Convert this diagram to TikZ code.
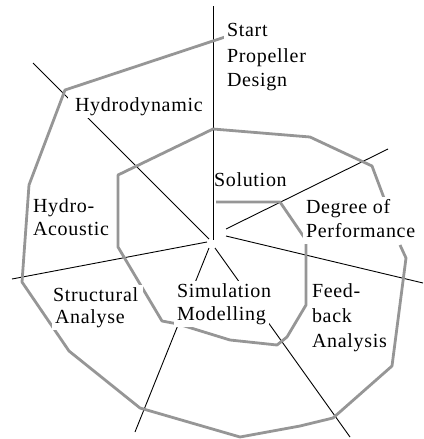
\documentclass[tikz,border=0pt]{standalone}
\usepackage{fontspec}
\setmainfont{Liberation Serif}[LetterSpace=3.5]
\definecolor{spiralgray}{RGB}{150,150,150}
\begin{document}
\begin{tikzpicture}[x=1pt,y=-1pt,
  ray/.style={line width=0.9pt, black},
  spir/.style={line width=2.8pt, spiralgray, line join=round},
  lbl/.style={font=\fontsize{20}{24}\selectfont, fill=white, inner xsep=3pt, inner ysep=2pt,
              text height=14pt, text depth=5pt, anchor=text}]
\useasboundingbox (0,0) rectangle (423,439);
% ray end points
\coordinate (vT) at (213,6);    \coordinate (vB) at (213,240);
\coordinate (ulA) at (33,63);   \coordinate (ulB) at (209,239);
\coordinate (urA) at (388,149); \coordinate (urB) at (226,229);
\coordinate (rA) at (226,236);  \coordinate (rB) at (423,283);
\coordinate (lA) at (12,279);   \coordinate (lB) at (207,242);
\coordinate (dlA) at (209,248); \coordinate (dlB) at (135,432);
\coordinate (drA) at (215,248); \coordinate (drB) at (350,437);
\draw[ray] (vT) -- (vB);
\draw[ray] (ulA) -- (ulB);
\draw[ray] (urA) -- (urB);
\draw[ray] (rA) -- (rB);
\draw[ray] (lA) -- (lB);
\draw[ray] (dlA) -- (dlB);
\draw[ray] (drA) -- (drB);
% spiral, outer turn
\draw[spir] (225,37) -- (65,90) -- (29,185) -- (22,282) -- (69,351) -- (140,408)
  -- (240,437) -- (300,426) -- (333,418) -- (392,366) -- (406,258) -- (400,245);
% spiral, inner turn
\draw[spir] (384,198) -- (372,166) -- (310,137) -- (213,129) -- (118,175) -- (118,247)
  -- (162,321) -- (178,324) -- (230,340) -- (277,345) -- (287,337) -- (306,305)
  -- (306,240) -- (280,202) -- (216,202);
% labels
\node[lbl] (start1) at (227,36) {Start};
\node[lbl] (start2) at (227,62) {Propeller};
\node[lbl] (start3) at (227,86) {Design};
\node[lbl, inner xsep=7pt] (hydrodyn) at (75,111) {Hydrodynamic};
\node[lbl, fill=none, inner xsep=0pt] (solution) at (214,186) {Solution};
\node[lbl] (degree1) at (306,213) {Degree of};
\node[lbl] (degree2) at (306,237) {Performance};
\node[lbl] (hydroac1) at (33,212) {Hydro-};
\node[lbl] (hydroac2) at (33,235) {Acoustic};
\node[lbl, inner xsep=5pt] (struct1) at (53,301) {Structural};
\node[lbl] (struct2) at (55,323) {Analyse};
\node[lbl] (simul1) at (177,297) {Simulation};
\node[lbl] (simul2) at (177,320) {Modelling};
\node[lbl] (feed1) at (312,297) {Feed-};
\node[lbl] (feed2) at (312,322) {back};
\node[lbl] (feed3) at (312,347) {Analysis};
\end{tikzpicture}
\end{document}
